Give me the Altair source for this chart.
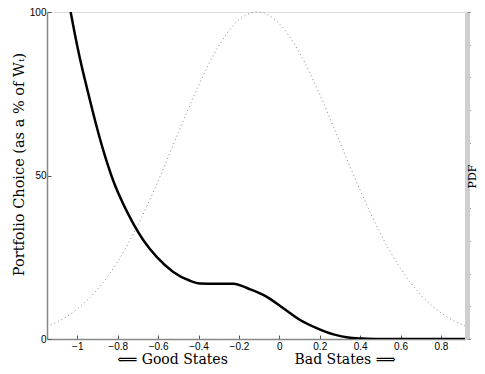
import altair as alt
import pandas as pd

# Portfolio choice curve (solid)
state = [-1.033, -1.011, -0.987, -0.962, -0.937, -0.907, -0.871, -0.822, -0.772,
         -0.723, -0.673, -0.607, -0.525, -0.442, -0.393, -0.31, -0.228, -0.145,
         -0.062, 0.02, 0.103, 0.185, 0.268, 0.35, 0.433, 0.5, 0.6, 0.7, 0.8, 0.919]
choice = [100, 92.9, 85.8, 79.2, 72.9, 65.6, 57.6, 48.4, 41.2,
          35.3, 30.2, 25.1, 20.5, 17.8, 17.0, 16.9, 16.9, 15.2,
          12.9, 9.4, 5.8, 3.3, 1.4, 0.4, 0.1, 0.0, 0.0, 0.0, 0.0, 0.0]

# State density (dotted), relative to its peak
pdf_x = [-1.15, -1.1, -1.0, -0.9, -0.8, -0.7, -0.6, -0.5, -0.4, -0.3, -0.2, -0.11,
         0.0, 0.1, 0.2, 0.3, 0.4, 0.5, 0.6, 0.7, 0.8, 0.9, 0.919]
pdf_v = [0.038, 0.052, 0.092, 0.152, 0.237, 0.349, 0.483, 0.631, 0.775, 0.896, 0.976, 1.0,
         0.964, 0.875, 0.748, 0.601, 0.455, 0.323, 0.216, 0.135, 0.080, 0.045, 0.040]

x_ticks = [-1, -0.8, -0.6, -0.4, -0.2, 0, 0.2, 0.4, 0.6, 0.8]
y_ticks = [0, 50, 100]
pdf_ticks = [0, 0.1, 0.2, 0.3, 0.4, 0.5, 0.6, 0.7, 0.8, 0.9, 1.0]

df_choice = pd.DataFrame({"state": state, "choice": choice})
df_pdf = pd.DataFrame({"state": pdf_x, "pdf": pdf_v})

xscale = alt.Scale(domain=[-1.15, 0.919], nice=False, zero=False)

x_title = "\u27f8 Good States" + "\u00a0" * 15 + "Bad States \u27f9"

x_axis = alt.Axis(values=x_ticks, format=".1~f", title=x_title,
                  titleFont="DejaVu Serif", titleFontSize=14, titleFontWeight="normal",
                  titleColor="black", titlePadding=1,
                  labelFont="Liberation Sans", labelFontSize=10, labelColor="black",
                  labelPadding=6, tickSize={"expr": "-4"}, tickColor="#555",
                  domainColor="#888", domainWidth=1.5, grid=False)

solid = alt.Chart(df_choice).mark_line(
    color="black", strokeWidth=2.5, interpolate="monotone", clip=True
).encode(
    x=alt.X("state:Q", scale=xscale, axis=x_axis),
    y=alt.Y("choice:Q", scale=alt.Scale(domain=[0, 100], nice=False),
            axis=alt.Axis(values=y_ticks, title="Portfolio Choice (as a % of W\u209c)",
                          titleFont="DejaVu Serif", titleFontSize=14.5, titleFontWeight="normal",
                          titleColor="black", titleX=-28, titleY=152, titleAngle=270,
                          titleAlign="center", titleBaseline="middle",
                          labelFont="Liberation Sans", labelFontSize=10, labelColor="black",
                          labelPadding=5, tickSize={"expr": "-4"}, tickColor="#555",
                          domainColor="#888", domainWidth=1.5, grid=False)),
)

dotted = alt.Chart(df_pdf).mark_line(
    color="#888888", strokeWidth=1, strokeDash=[1, 3], interpolate="monotone"
).encode(
    x=alt.X("state:Q", scale=xscale, axis=x_axis),
    y=alt.Y("pdf:Q", scale=alt.Scale(domain=[0, 1], nice=False),
            axis=alt.Axis(orient="right", values=pdf_ticks, labels=False, title="PDF",
                          titleFont="DejaVu Serif", titleFontSize=11, titleFontWeight="normal",
                          titleColor="black", titleX=5, titleY=164, titleAngle=270,
                          titleAlign="center", titleBaseline="middle",
                          offset=2, domainColor="#cfcfcf", domainWidth=5,
                          tickSize=3, tickColor="#444", grid=False)),
)

chart = alt.layer(dotted, solid).resolve_scale(y="independent").properties(
    width=418, height=327,
    autosize=alt.AutoSizeParams(type="none"),
    padding={"left": 39, "top": 4, "right": 12, "bottom": 27},
).configure_view(stroke=None).configure(background="white")

chart.save("out.html", embed_options={"renderer": "svg", "actions": False})
